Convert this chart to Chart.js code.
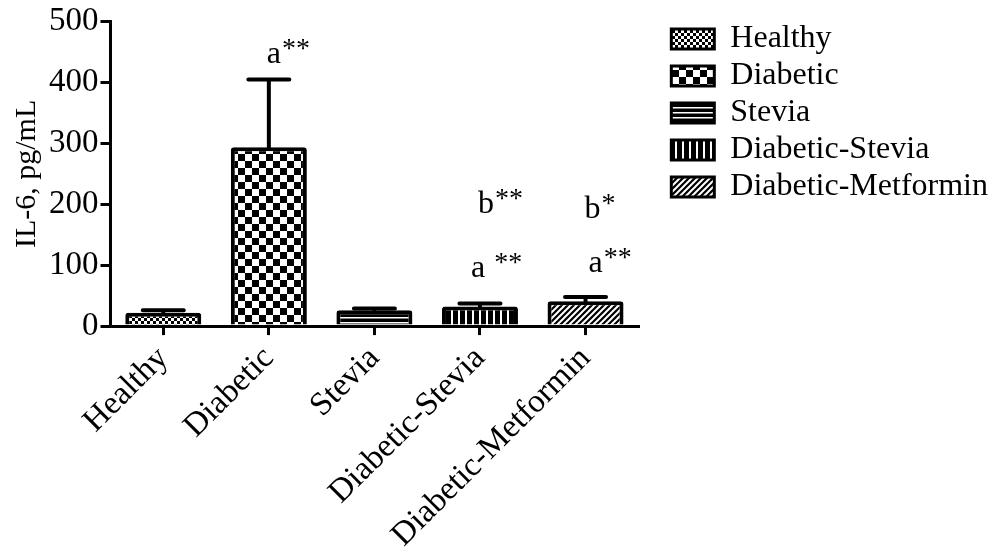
<!DOCTYPE html>
<html>
<head>
<meta charset="utf-8">
<script src="https://cdn.jsdelivr.net/npm/chart.js@4"></script>
<style>
html,body{margin:0;padding:0;background:#fff;}
#wrap{width:1000px;height:559px;position:relative;}
</style>
</head>
<body>
<div id="wrap"><canvas id="c" width="1000" height="559"></canvas></div>
<script>
const categories = ["Healthy", "Diabetic", "Stevia", "Diabetic-Stevia", "Diabetic-Metformin"];
const meanValues = [22, 294, 26, 32, 41];
const errorUpper = [26, 405, 29, 37, 48];
const yTicks = [0, 100, 200, 300, 400, 500];
const yTitle = "IL-6, pg/mL";
// significance letters: category index, value level (baseline), text
const annotCategory = [1, 3, 3, 4, 4];
const annotLevel = [433, 186, 81, 177, 89];
const annotLetter = ["a", "b", "a ", "b", "a"];
const annotStars = ["**", "**", "**", "*", "**"];
const annotDx = [-2, -2, -9, -1, 3];

const FONT = "'Liberation Serif', 'Times New Roman', serif";

function makePattern(kind) {
  const p = document.createElement('canvas');
  const ctx = p.getContext('2d');
  if (kind === 'fineCheck') {
    p.width = 6; p.height = 6;
    ctx.fillStyle = '#fff'; ctx.fillRect(0,0,6,6);
    ctx.fillStyle = '#000'; ctx.fillRect(0,0,3,3); ctx.fillRect(3,3,3,3);
  } else if (kind === 'bigCheck') {
    p.width = 14; p.height = 14;
    ctx.fillStyle = '#fff'; ctx.fillRect(0,0,14,14);
    ctx.fillStyle = '#000'; ctx.fillRect(0,0,7,7); ctx.fillRect(7,7,7,7);
  } else if (kind === 'hLines') {
    p.width = 8; p.height = 5;
    ctx.fillStyle = '#000'; ctx.fillRect(0,0,8,5);
    ctx.fillStyle = '#fff'; ctx.fillRect(0,2,8,1.5);
  } else if (kind === 'vLines') {
    p.width = 7; p.height = 7;
    ctx.fillStyle = '#000'; ctx.fillRect(0,0,7,7);
    ctx.fillStyle = '#fff'; ctx.fillRect(3,0,2,7);
  } else if (kind === 'diag') {
    p.width = 6; p.height = 6;
    ctx.fillStyle = '#000'; ctx.fillRect(0,0,6,6);
    ctx.strokeStyle = '#fff'; ctx.lineWidth = 2;
    ctx.beginPath();
    ctx.moveTo(-1,7); ctx.lineTo(7,-1);
    ctx.moveTo(-4,4); ctx.lineTo(4,-4);
    ctx.moveTo(2,10); ctx.lineTo(10,2);
    ctx.stroke();
  }
  return document.createElement('canvas').getContext('2d').createPattern(p, 'repeat');
}

const fills = [makePattern('fineCheck'), makePattern('bigCheck'), makePattern('hLines'), makePattern('vLines'), makePattern('diag')];

const LEGEND_GAP = 28;
const LEGEND_DROP = 15;
const legendShiftPlugin = {
  id: 'legendShift',
  beforeLayout(chart) {
    const lg = chart.legend;
    if (lg && !lg._patched) {
      const f = lg.fit.bind(lg);
      lg.fit = function () { f(); this.width += LEGEND_GAP; };
      lg._patched = true;
    }
  },
  afterLayout(chart) {
    if (chart.legend) {
      chart.legend.left += LEGEND_GAP;
      chart.legend.top += LEGEND_DROP;
    }
  }
};

const errorBarPlugin = {
  id: 'errorBars',
  afterDatasetsDraw(chart) {
    const ctx = chart.ctx;
    const meta = chart.getDatasetMeta(0);
    const y = chart.scales.y;
    ctx.save();
    ctx.strokeStyle = '#000';
    ctx.lineWidth = 4;
    ctx.lineCap = 'round';
    meta.data.forEach((bar, i) => {
      const top = y.getPixelForValue(errorUpper[i]);
      const half = bar.width * 0.27;
      ctx.beginPath();
      ctx.moveTo(bar.x, bar.y);
      ctx.lineTo(bar.x, top);
      ctx.moveTo(bar.x - half, top);
      ctx.lineTo(bar.x + half, top);
      ctx.stroke();
    });
    ctx.restore();
  }
};

const annotationPlugin = {
  id: 'annots',
  afterDatasetsDraw(chart) {
    const ctx = chart.ctx;
    const meta = chart.getDatasetMeta(0);
    const y = chart.scales.y;
    ctx.save();
    ctx.fillStyle = '#000';
    ctx.textAlign = 'left';
    ctx.textBaseline = 'alphabetic';
    annotCategory.forEach((idx, k) => {
      const bar = meta.data[idx];
      const x0 = bar.x + annotDx[k];
      const yb = y.getPixelForValue(annotLevel[k]);
      ctx.font = "32px " + FONT;
      ctx.fillText(annotLetter[k], x0, yb);
      const w = ctx.measureText(annotLetter[k]).width;
      ctx.font = "28px " + FONT;
      ctx.fillText(annotStars[k], x0 + w + 1, yb - 6);
    });
    ctx.restore();
  }
};

new Chart(document.getElementById('c'), {
  type: 'bar',
  data: {
    labels: categories,
    datasets: [{
      data: meanValues,
      backgroundColor: fills,
      borderColor: '#000',
      borderWidth: 4,
      borderRadius: 3,
      borderSkipped: 'bottom',
      barPercentage: 0.72,
      categoryPercentage: 1.0
    }]
  },
  options: {
    responsive: false,
    animation: false,
    devicePixelRatio: 1,
    layout: { padding: { top: 3, right: 2, left: 7, bottom: 0 } },
    plugins: {
      tooltip: { enabled: false },
      legend: {
        position: 'right',
        align: 'start',
        maxWidth: 440,
        labels: {
          color: '#000',
          font: { family: FONT, size: 32 },
          boxWidth: 43,
          boxHeight: 20,
          padding: 5,
          generateLabels(chart) {
            return categories.map((c, i) => ({
              text: c,
              fillStyle: fills[i],
              strokeStyle: '#000',
              lineWidth: 3,
              hidden: false,
              index: i,
              datasetIndex: 0
            }));
          }
        }
      }
    },
    scales: {
      x: {
        offset: true,
        grid: { display: true, drawOnChartArea: false, drawTicks: true, tickLength: 9, offset: false, lineWidth: 3, color: '#000' },
        border: { display: true, width: 3, color: '#000' },
        ticks: { color: '#000', font: { family: FONT, size: 33 }, minRotation: 45, maxRotation: 45, padding: 4 }
      },
      y: {
        min: 0,
        max: 500,
        afterBuildTicks(scale) { scale.ticks = yTicks.map(v => ({ value: v })); },
        grid: { display: true, drawOnChartArea: false, drawTicks: true, tickLength: 10, lineWidth: 3, color: '#000' },
        border: { display: true, width: 3, color: '#000' },
        ticks: { color: '#000', font: { family: FONT, size: 33 }, padding: 2 },
        title: { display: true, text: yTitle, color: '#000', font: { family: FONT, size: 30 }, padding: 2 }
      }
    }
  },
  plugins: [legendShiftPlugin, errorBarPlugin, annotationPlugin]
});
</script>
</body>
</html>
